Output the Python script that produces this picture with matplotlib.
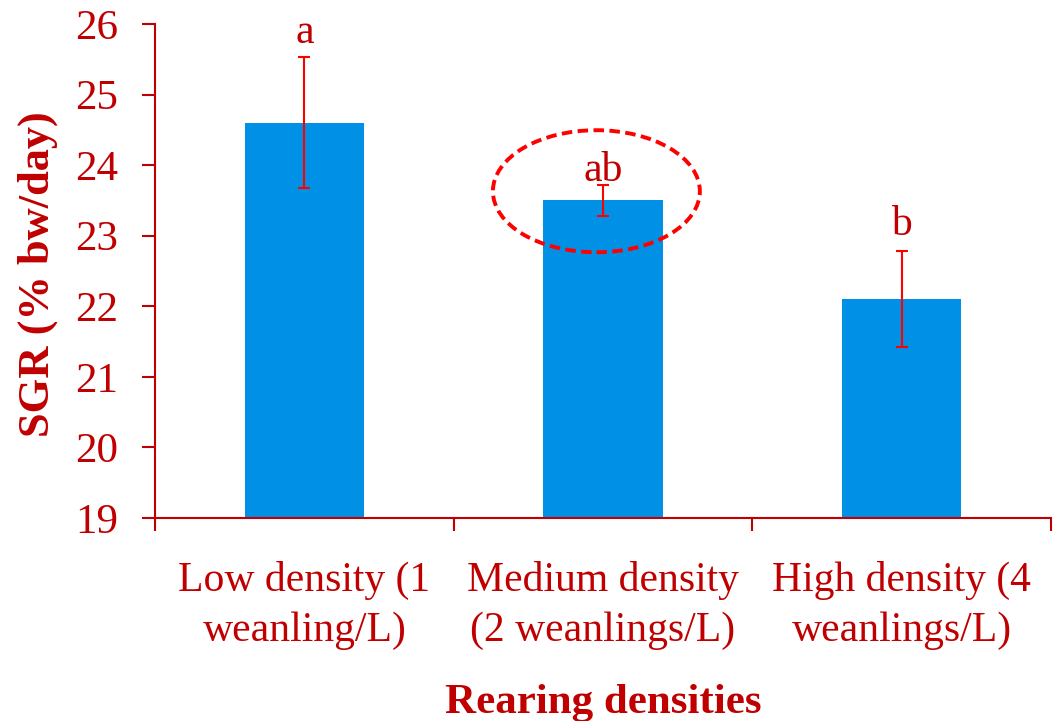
import matplotlib
matplotlib.use("Agg")
import matplotlib.pyplot as plt
from matplotlib.patches import Ellipse

categories = ["Low density (1\nweanling/L)", "Medium density\n(2 weanlings/L)", "High density (4\nweanlings/L)"]
sgr = [24.6, 23.5, 22.1]
sgr_err = [0.93, 0.22, 0.68]
letters = ["a", "ab", "b"]
yticks = [19, 20, 21, 22, 23, 24, 25, 26]

DARK_RED = "#C00000"
BAR_BLUE = "#0091E6"
ERR_RED = "#FF0000"

plt.rcParams["font.family"] = ["Liberation Serif", "DejaVu Serif"]

fig = plt.figure(figsize=(10.53, 7.21), dpi=100)
ax = fig.add_axes([0.1472, 0.2816, 0.8508, 0.6851])

x = list(range(len(categories)))
ax.bar(x, sgr, width=0.40, color=BAR_BLUE, zorder=2)
ax.errorbar(x, sgr, yerr=sgr_err, fmt="none", ecolor=ERR_RED,
            elinewidth=1.5, capsize=4.5, capthick=1.5, zorder=3)

# significance letters sit just above each error bar
letter_gap_pt = [10, 3, 11.5]
for xi, v, e, lab, gap in zip(x, sgr, sgr_err, letters, letter_gap_pt):
    ax.annotate(lab, xy=(xi, v + e), xytext=(0, gap), textcoords="offset points",
                ha="center", va="baseline", fontsize=30, color=DARK_RED)

# highlight the medium-density group
ax.add_patch(Ellipse((0.978, 23.63), 0.693, 1.73, fill=False, edgecolor=ERR_RED,
                     linestyle=(0, (2.7, 1.4)), linewidth=2.8, zorder=4))

ax.set_xlim(-0.5, 2.5)
ax.set_ylim(19, 26)
ax.set_yticks(yticks)
ax.set_yticklabels([str(t) for t in yticks])
ax.set_xticks([-0.5, 0.5, 1.5, 2.5])
ax.set_xticklabels([])
ax.set_xticks(x, minor=True)
ax.set_xticklabels(categories, minor=True, linespacing=1.38)

for side in ("top", "right"):
    ax.spines[side].set_visible(False)
for side in ("left", "bottom"):
    ax.spines[side].set_color(DARK_RED)
    ax.spines[side].set_linewidth(1.5)

ax.tick_params(axis="y", direction="out", length=9.5, width=1.5, color=DARK_RED,
               labelcolor=DARK_RED, labelsize=31, pad=17)
ax.tick_params(axis="x", which="major", direction="out", length=9.5, width=1.5,
               color=DARK_RED)
ax.tick_params(axis="x", which="minor", length=0, labelcolor=DARK_RED,
               labelsize=30, pad=31)

ax.set_ylabel("SGR (% bw/day)", fontsize=32, fontweight="bold", color=DARK_RED)
ax.yaxis.set_label_coords(-0.108, 0.494)
ax.set_xlabel("Rearing densities", fontsize=31, fontweight="bold", color=DARK_RED)
ax.xaxis.set_label_coords(0.5, -0.336)

fig.savefig("out.png", dpi=100)
